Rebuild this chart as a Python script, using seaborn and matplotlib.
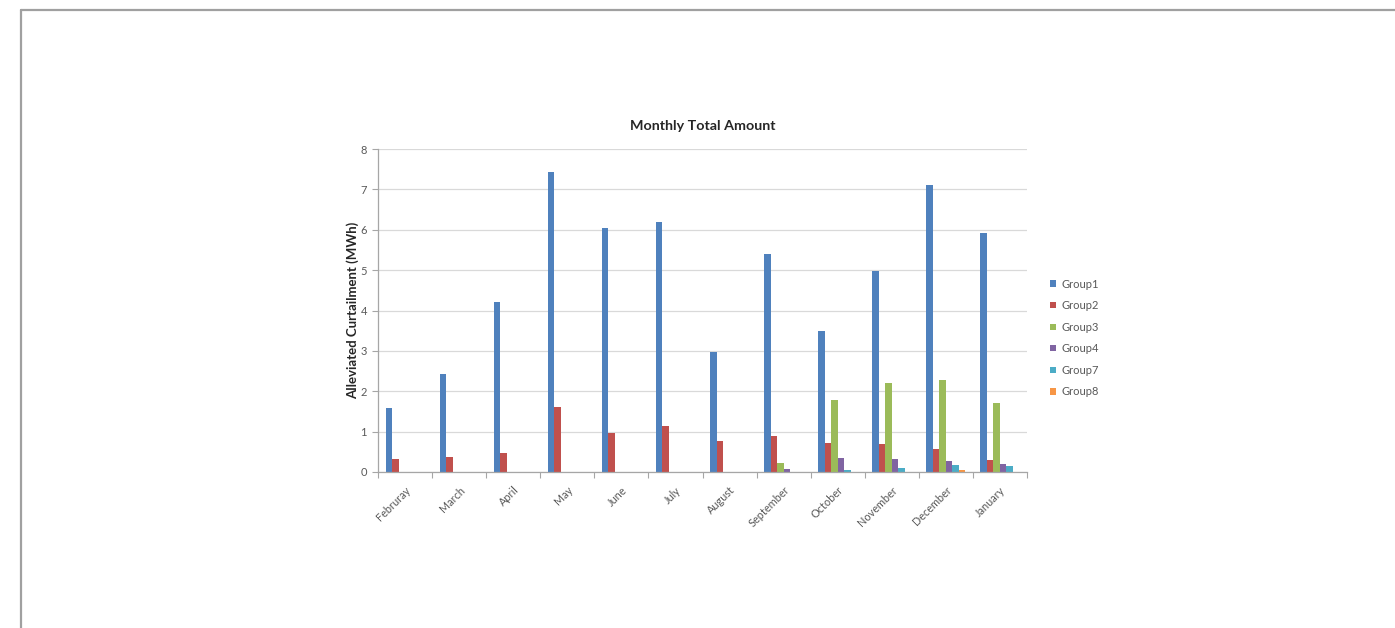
import matplotlib
matplotlib.use("Agg")
import matplotlib.pyplot as plt
from matplotlib.lines import Line2D
from matplotlib.patches import Patch
import numpy as np
import pandas as pd
import seaborn as sns

months = ["Februray", "March", "April", "May", "June", "July", "August",
          "September", "October", "November", "December", "January"]
groups = ["Group1", "Group2", "Group3", "Group4", "Group7", "Group8"]

group1 = [1.58, 2.42, 4.2, 7.42, 6.05, 6.2, 2.97, 5.4, 3.5, 4.98, 7.12, 5.93]
group2 = [0.33, 0.37, 0.47, 1.6, 0.97, 1.15, 0.78, 0.9, 0.73, 0.69, 0.58, 0.3]
group3 = [0, 0, 0, 0, 0, 0, 0, 0.23, 1.79, 2.2, 2.27, 1.71]
group4 = [0, 0, 0, 0, 0, 0, 0, 0.07, 0.34, 0.31, 0.28, 0.2]
group7 = [0, 0, 0, 0, 0, 0, 0, 0, 0.06, 0.11, 0.17, 0.15]
group8 = [0, 0, 0, 0, 0, 0, 0, 0, 0, 0.01, 0.04, 0.01]

colors = ["#4F81BD", "#C0504D", "#9BBB59", "#8064A2", "#4BACC6", "#F79646"]

series = [group1, group2, group3, group4, group7, group8]
df = pd.DataFrame({
    "Month": np.tile(months, len(groups)),
    "Group": np.repeat(groups, len(months)),
    "Value": np.concatenate(series),
})

sns.set_theme(style="white")
plt.rcParams["font.family"] = ["Lato", "DejaVu Sans"]

fig = plt.figure(figsize=(13.95, 6.28), dpi=100)
ax = fig.add_axes([378 / 1395, 1 - 472 / 628, 649 / 1395, 323 / 628])

sns.barplot(data=df, x="Month", y="Value", hue="Group", order=months,
            hue_order=groups, palette=colors, width=0.72, dodge=True,
            saturation=1, linewidth=0, errorbar=None, ax=ax, legend=False)

ax.set_xlim(-0.5, len(months) - 0.5)
ax.set_ylim(0, 8)
ax.set_yticks(range(0, 9))
ax.yaxis.grid(True, color="#D9D9D9", linewidth=0.9)
ax.set_axisbelow(True)

for side in ["top", "right"]:
    ax.spines[side].set_visible(False)
for side in ["left", "bottom"]:
    ax.spines[side].set_color("#A6A6A6")
    ax.spines[side].set_linewidth(0.9)

ax.tick_params(axis="y", which="major", length=4, width=0.8, color="#A6A6A6",
               labelsize=8, labelcolor="#595959", pad=4, left=True)
ax.tick_params(axis="x", which="major", length=0, labelsize=7.8,
               labelcolor="#595959", pad=9)
ax.set_xticks(np.arange(-0.5, len(months), 1.0), minor=True)
ax.tick_params(axis="x", which="minor", length=4, width=0.8, color="#A6A6A6",
               bottom=True)
for lab in ax.get_xticklabels():
    lab.set_rotation(45)
    lab.set_ha("right")
    lab.set_rotation_mode("anchor")

ax.set_xlabel("")
ax.set_ylabel("Alleviated Curtailment (MWh)", fontsize=9.5, fontweight="bold",
              color="#262626", labelpad=1)
ax.set_title("Monthly Total Amount", fontsize=10.3, fontweight="bold",
             color="#262626", pad=14)

handles = [Patch(facecolor=c, edgecolor="none") for c in colors]
ax.legend(handles, groups, loc="center left", bbox_to_anchor=(1.02, 0.415),
          frameon=False, fontsize=8, labelcolor="#595959",
          handlelength=0.5, handleheight=0.5, handletextpad=0.5,
          labelspacing=0.95)

# outer frame of the page
fig.add_artist(Line2D([20.5 / 1395, 20.5 / 1395], [0, 1 - 9.5 / 628],
                      transform=fig.transFigure, color="#A0A0A0", linewidth=1.6))
fig.add_artist(Line2D([20.5 / 1395, 1], [1 - 9.5 / 628, 1 - 9.5 / 628],
                      transform=fig.transFigure, color="#A0A0A0", linewidth=1.6))

fig.savefig("out.png", dpi=100, facecolor="white")
